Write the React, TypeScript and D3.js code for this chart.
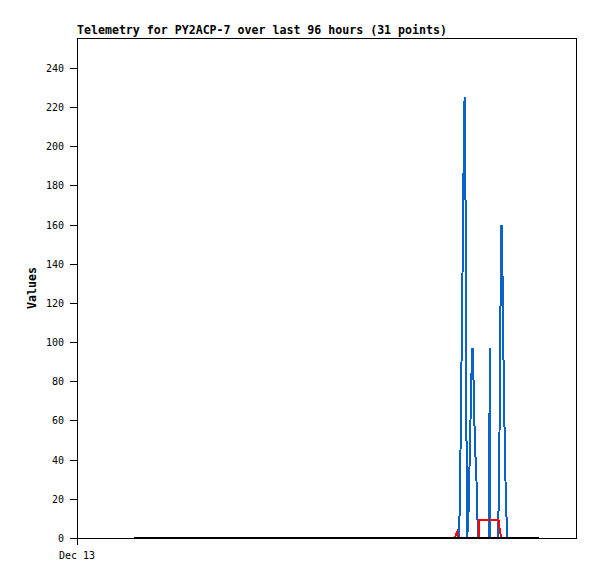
import React from "react";
import * as d3 from "d3";

const title = "Telemetry for PY2ACP-7 over last 96 hours (31 points)";
const yTicks = [0, 20, 40, 60, 80, 100, 120, 140, 160, 180, 200, 220, 240];
const xTickLabels = [{ h: 0, label: "Dec 13" }];

// hours since Dec 13 00:00
const zeroHours = [13.68, 110.88];
const zeroValues = [0, 0];

const blueHours = [91.68, 91.92, 92.16, 92.4, 92.64, 92.83, 93.02, 93.26, 93.46, 93.65, 93.96, 94.2, 94.44, 94.68, 94.92, 95.11, 95.28, 95.52, 95.88, 96.24, 98.88, 99.07, 99.24, 101.04, 101.28, 101.52, 101.69, 101.88, 102.07, 102.24, 102.43, 102.67, 102.96, 103.32];
const blueValues = [0, 22, 67, 112, 157, 202, 225, 168, 56, 0, 13, 36, 60, 84, 97, 87, 67, 48, 29, 0, 0, 97, 0, 0, 27, 80, 133, 160, 144, 112, 80, 48, 16, 0];

const redHours = [90.72, 90.96, 91.2, 91.44, 96.36, 96.43, 96.53, 101.16, 101.4, 101.64, 101.83];
const redValues = [0, 2, 3, 0, 0, 4, 9, 9, 5, 2, 0];

const W = 597, H = 579;
const L = 77, R = 576, T = 38, B = 538;

export default function App() {
  const x = d3.scaleLinear().domain([0, 120]).range([L, L + 500]);
  const y = d3.scaleLinear().domain([0, 255.3]).range([B, T]);
  const line = d3.line<[number, number]>().x(d => x(d[0])).y(d => y(d[1]));
  const mk = (hs: number[], vs: number[]) => hs.map((h, i) => [h, vs[i]] as [number, number]);
  const mono = "'DejaVu Sans Mono', 'Liberation Mono', monospace";
  return (
    <svg width={W} height={H} style={{ position: "absolute", left: 0, top: 0, background: "#fff" }}>
      <rect x={0} y={0} width={W} height={H} fill="#fff" />
      <text x={L} y={34} fontFamily={mono} fontSize={11.6} fontWeight="bold" fill="#000">{title}</text>
      <rect x={L + 0.5} y={T + 0.5} width={R - L} height={B - T} fill="none" stroke="#000" strokeWidth={1} shapeRendering="crispEdges" />
      {yTicks.map(t => (
        <g key={t}>
          <line x1={L - 7} x2={L} y1={Math.round(y(t)) + 0.5} y2={Math.round(y(t)) + 0.5} stroke="#000" shapeRendering="crispEdges" />
          <text x={64} y={Math.round(y(t)) + 4} textAnchor="end" fontFamily={mono} fontSize={10} fill="#000">{t}</text>
        </g>
      ))}
      {xTickLabels.map(d => (
        <g key={d.label}>
          <line x1={Math.round(x(d.h)) + 0.5} x2={Math.round(x(d.h)) + 0.5} y1={B} y2={B + 7} stroke="#000" shapeRendering="crispEdges" />
          <text x={x(d.h)} y={559} textAnchor="middle" fontFamily={mono} fontSize={10} fill="#000">{d.label}</text>
        </g>
      ))}
      <text transform={`translate(36,${(T + B) / 2}) rotate(-90)`} textAnchor="middle" fontFamily={mono} fontSize={11.6} fontWeight="bold" fill="#000">Values</text>
      <path d={line(mk(blueHours, blueValues)) || ""} fill="none" stroke="#0a64c8" strokeWidth={2} shapeRendering="crispEdges" />
      <path d={line(mk(redHours, redValues)) || ""} fill="none" stroke="#ff0000" strokeWidth={2} shapeRendering="crispEdges" />
      <path d={line(mk(zeroHours, zeroValues)) || ""} fill="none" stroke="#000" strokeWidth={2} shapeRendering="crispEdges" />
    </svg>
  );
}
